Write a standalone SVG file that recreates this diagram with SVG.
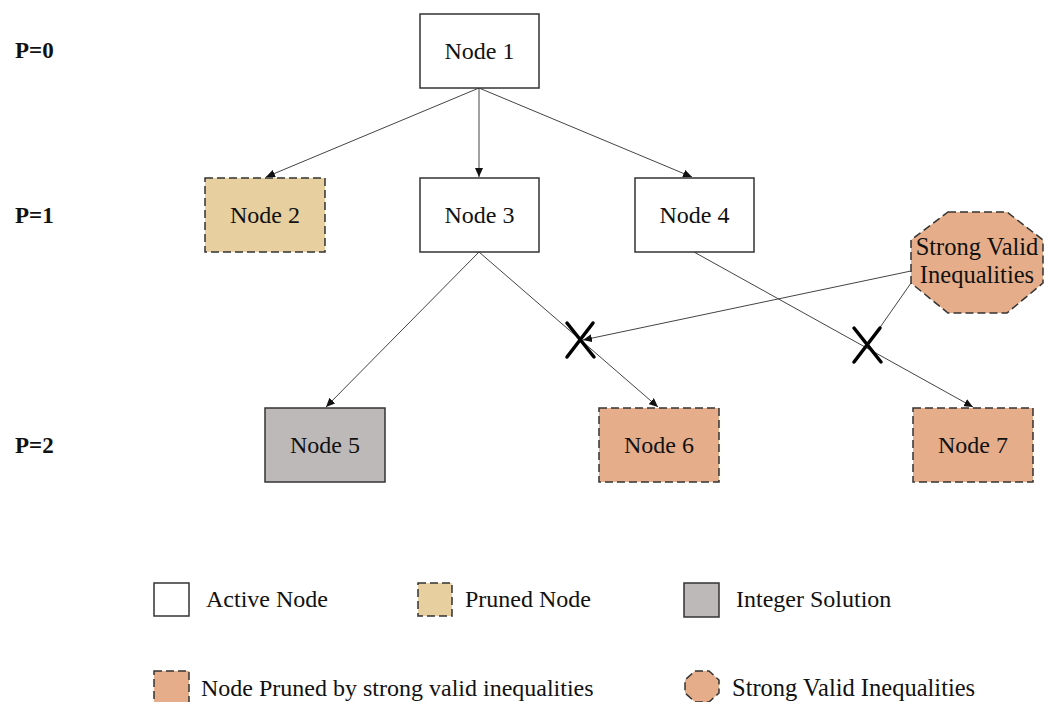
<svg xmlns="http://www.w3.org/2000/svg" width="1045" height="702" viewBox="0 0 1045 702">
<defs>
<style>
.t{font-family:"Liberation Serif","Times New Roman",serif;font-size:24px;fill:#111;}
.s{font-size:24.5px;}
.c{text-anchor:middle;}
.b{font-weight:bold;font-size:23px;}
.act{fill:#fff;stroke:#333;stroke-width:1.5;}
.pr{fill:#E7CF9F;stroke:#333;stroke-width:1.5;stroke-dasharray:8 4;}
.sv{fill:#E5AD89;stroke:#333;stroke-width:1.5;stroke-dasharray:8 4;}
.int{fill:#BEB9B9;stroke:#333;stroke-width:1.5;}
.e{stroke:#444;stroke-width:1;fill:none;}
.x{stroke:#000;stroke-width:3.5;stroke-linecap:round;}
</style>
<marker id="ah" markerUnits="userSpaceOnUse" markerWidth="10" markerHeight="8" refX="9" refY="4" orient="auto">
<path d="M0,0 L9,4 L0,8 z" fill="#111"/>
</marker>
</defs>
<rect width="1045" height="702" fill="#fff"/>
<g id="levels">
<text class="t b" x="15" y="58">P=0</text>
<text class="t b" x="15" y="223">P=1</text>
<text class="t b" x="15" y="453">P=2</text>
</g>
<g id="connectors">
<line class="e" x1="479" y1="88" x2="266" y2="177" marker-end="url(#ah)"/>
<line class="e" x1="479" y1="88" x2="479" y2="177" marker-end="url(#ah)"/>
<line class="e" x1="479" y1="88" x2="692" y2="177" marker-end="url(#ah)"/>
<line class="e" x1="479" y1="252" x2="326" y2="407" marker-end="url(#ah)"/>
<line class="e" x1="479" y1="252" x2="658" y2="407" marker-end="url(#ah)"/>
<line class="e" x1="694" y1="252" x2="973" y2="407" marker-end="url(#ah)"/>
<line class="e" x1="911" y1="271" x2="583" y2="340" marker-end="url(#ah)"/>
<line class="e" x1="911" y1="283" x2="874" y2="336"/>
</g>
<g id="cross1">
<line class="x" x1="567" y1="323" x2="594" y2="357"/>
<line class="x" x1="593" y1="323" x2="567" y2="357"/>
</g>
<g id="cross2">
<line class="x" x1="854" y1="328" x2="881" y2="362"/>
<line class="x" x1="880" y1="328" x2="854" y2="362"/>
</g>
<g id="node1"><rect class="act" x="420" y="14" width="119" height="74"/><text class="t c" x="479.5" y="59">Node 1</text></g>
<g id="node2"><rect class="pr" x="205" y="178" width="120" height="74"/><text class="t c" x="265" y="223">Node 2</text></g>
<g id="node3"><rect class="act" x="420" y="178" width="119" height="74"/><text class="t c" x="479.5" y="223">Node 3</text></g>
<g id="node4"><rect class="act" x="635" y="178" width="119" height="74"/><text class="t c" x="694.5" y="223">Node 4</text></g>
<g id="node5"><rect class="int" x="265" y="408" width="120" height="74"/><text class="t c" x="325" y="453">Node 5</text></g>
<g id="node6"><rect class="sv" x="599" y="408" width="120" height="74"/><text class="t c" x="659" y="453">Node 6</text></g>
<g id="node7"><rect class="sv" x="913" y="408" width="120" height="74"/><text class="t c" x="973" y="453">Node 7</text></g>
<g id="svi">
<polygon class="sv" points="948,212 1007,212 1043,240 1043,283 1007,313 948,313 911,283 911,240"/>
<text class="t s c" x="977" y="255">Strong Valid</text>
<text class="t s c" x="977" y="283">Inequalities</text>
</g>
<g id="legend">
<rect class="act" x="154" y="583" width="35" height="33"/>
<text class="t" x="206" y="607">Active Node</text>
<rect class="pr" x="418" y="583" width="34" height="33"/>
<text class="t" x="465" y="607">Pruned Node</text>
<rect class="int" x="684" y="583" width="35" height="34"/>
<text class="t" x="736" y="607">Integer Solution</text>
<rect class="sv" x="154" y="671" width="35" height="33"/>
<text class="t" x="201" y="696">Node Pruned by strong valid inequalities</text>
<polygon class="sv" points="695,671 709,671 719,680 719,693 709,702 695,702 685,693 685,680"/>
<text class="t s" x="732" y="696">Strong Valid Inequalities</text>
</g>
</svg>
